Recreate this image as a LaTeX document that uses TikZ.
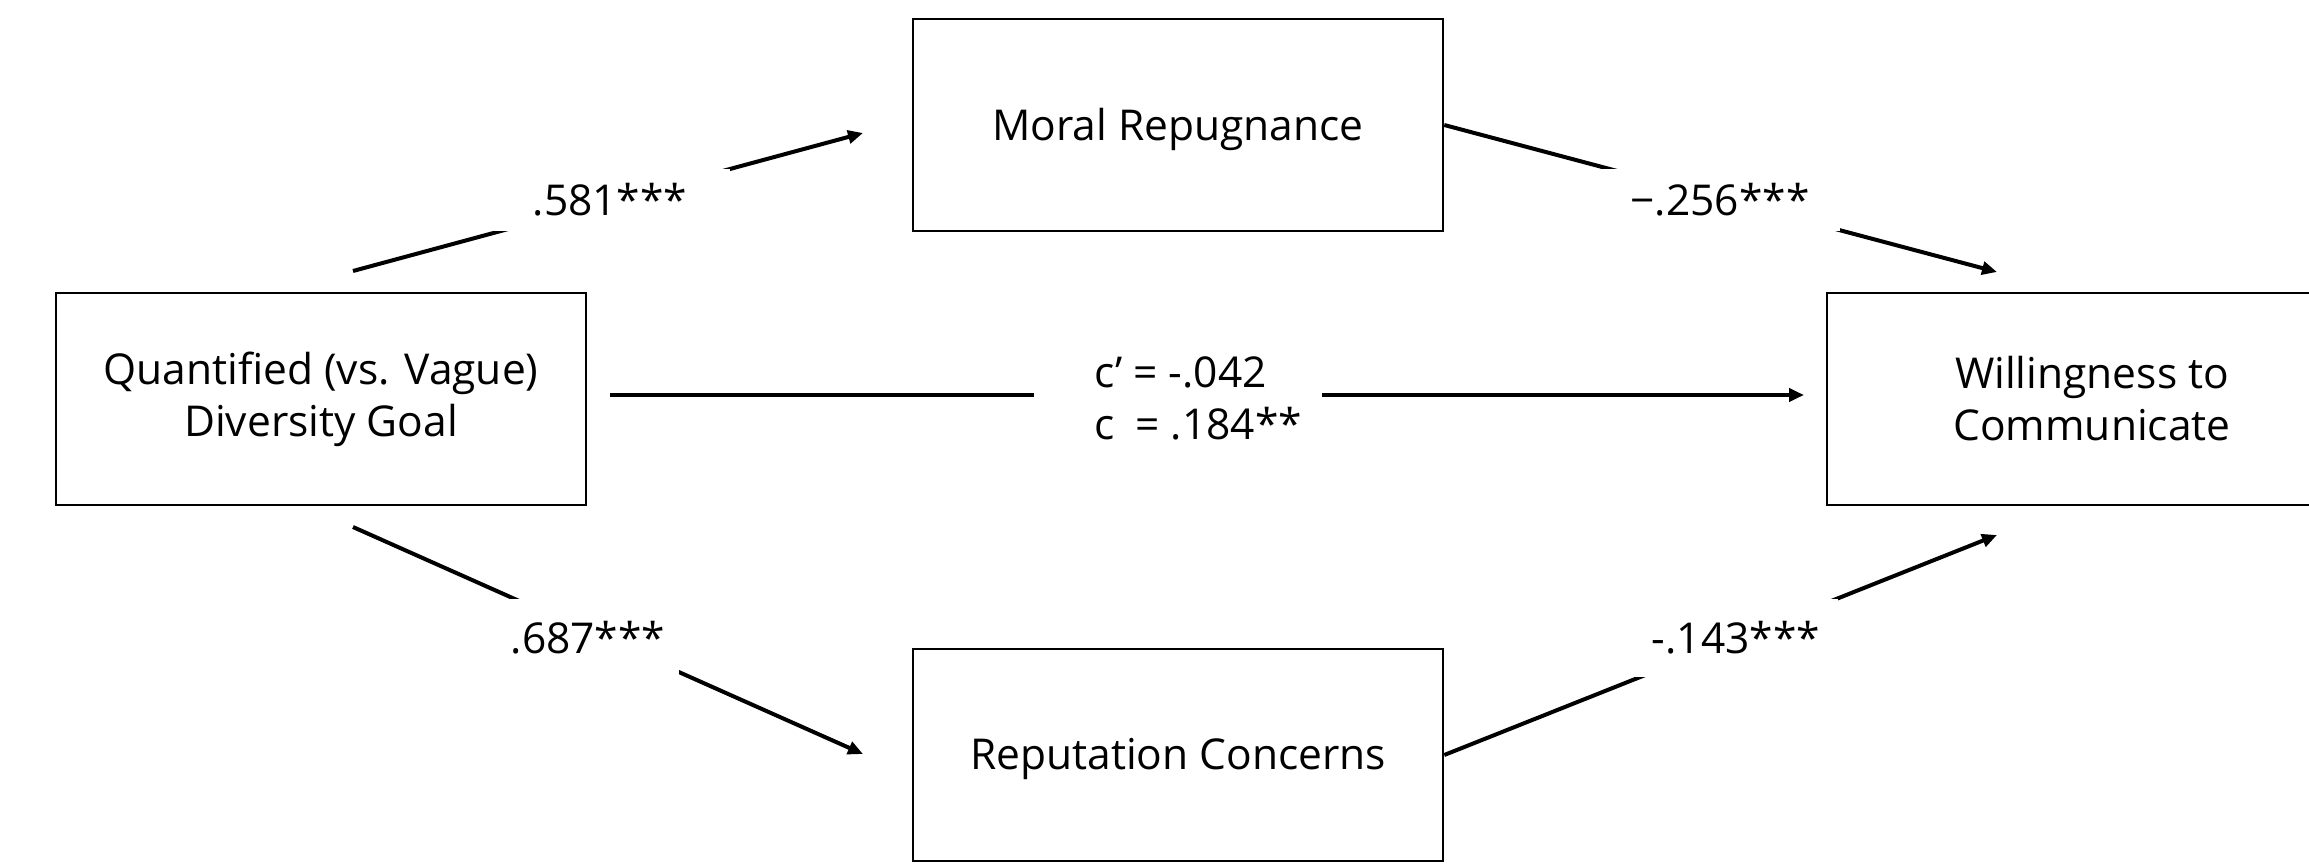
\documentclass[tikz,border=0pt]{standalone}
\usepackage{fontspec}
\setmainfont{Open Sans}
\usetikzlibrary{arrows.meta}
\begin{document}
\begin{tikzpicture}[x=1pt,y=-1pt,
  box/.style={draw, line width=2.5pt, minimum width=530pt, minimum height=212pt, align=center, inner sep=0pt, font=\fontsize{42.5}{52}\selectfont},
  conn/.style={line width=4pt, -{Triangle[length=15pt,width=13pt]}},
  plain/.style={line width=4pt},
  coef/.style={fill=white, inner sep=0pt, font=\fontsize{42.5}{52}\selectfont},
]
\clip (0,0) rectangle (2309,864);
\fill[white] (0,0) rectangle (2309,864);
\node[box] (X) at (321,399) {Quantified (vs. Vague)\\Diversity Goal};
\node[box] (M1) at (1178,125) {\raisebox{-4pt}[\height][\depth]{Moral Repugnance}};
\node[box] (M2) at (1178,755) {\raisebox{-4pt}[\height][\depth]{Reputation Concerns}};
\node[box] (Y) at (2092,399) {Willingness to\\Communicate};
% free ends
\coordinate (a1) at (353,271); \coordinate (a2) at (863,133);
\coordinate (b2) at (1997,272);
\coordinate (c1) at (353,527); \coordinate (c2) at (863,754);
\coordinate (d2) at (1997,535);
\coordinate (e1) at (610,395); \coordinate (eg1) at (1034,395);
\coordinate (eg2) at (1322,395); \coordinate (e2) at (1804,395);
% connectors
\draw[conn] (a1) -- (a2);
\draw[conn] (M1.east) -- (b2);
\draw[conn] (c1) -- (c2);
\draw[conn] (M2.east) -- (d2);
\draw[plain] (e1) -- (eg1);
\draw[conn] (eg2) -- (e2);
% coefficients
\node[coef, minimum width=240pt, minimum height=62pt] (la) at (610,200) {.581***};
\node[coef, minimum width=240pt, minimum height=62pt] (lb) at (1720,200) {−.256***};
\node[coef, minimum width=182pt, minimum height=78pt] (lc) at (588,638) {.687***};
\node[coef, minimum width=204pt, minimum height=78pt] (ld) at (1736,638) {-.143***};
\node[coef] (le) at (1198,403) {\begin{tabular}{@{}l@{}}c’ = -.042\\c\enspace = .184**\end{tabular}};
\end{tikzpicture}
\end{document}
